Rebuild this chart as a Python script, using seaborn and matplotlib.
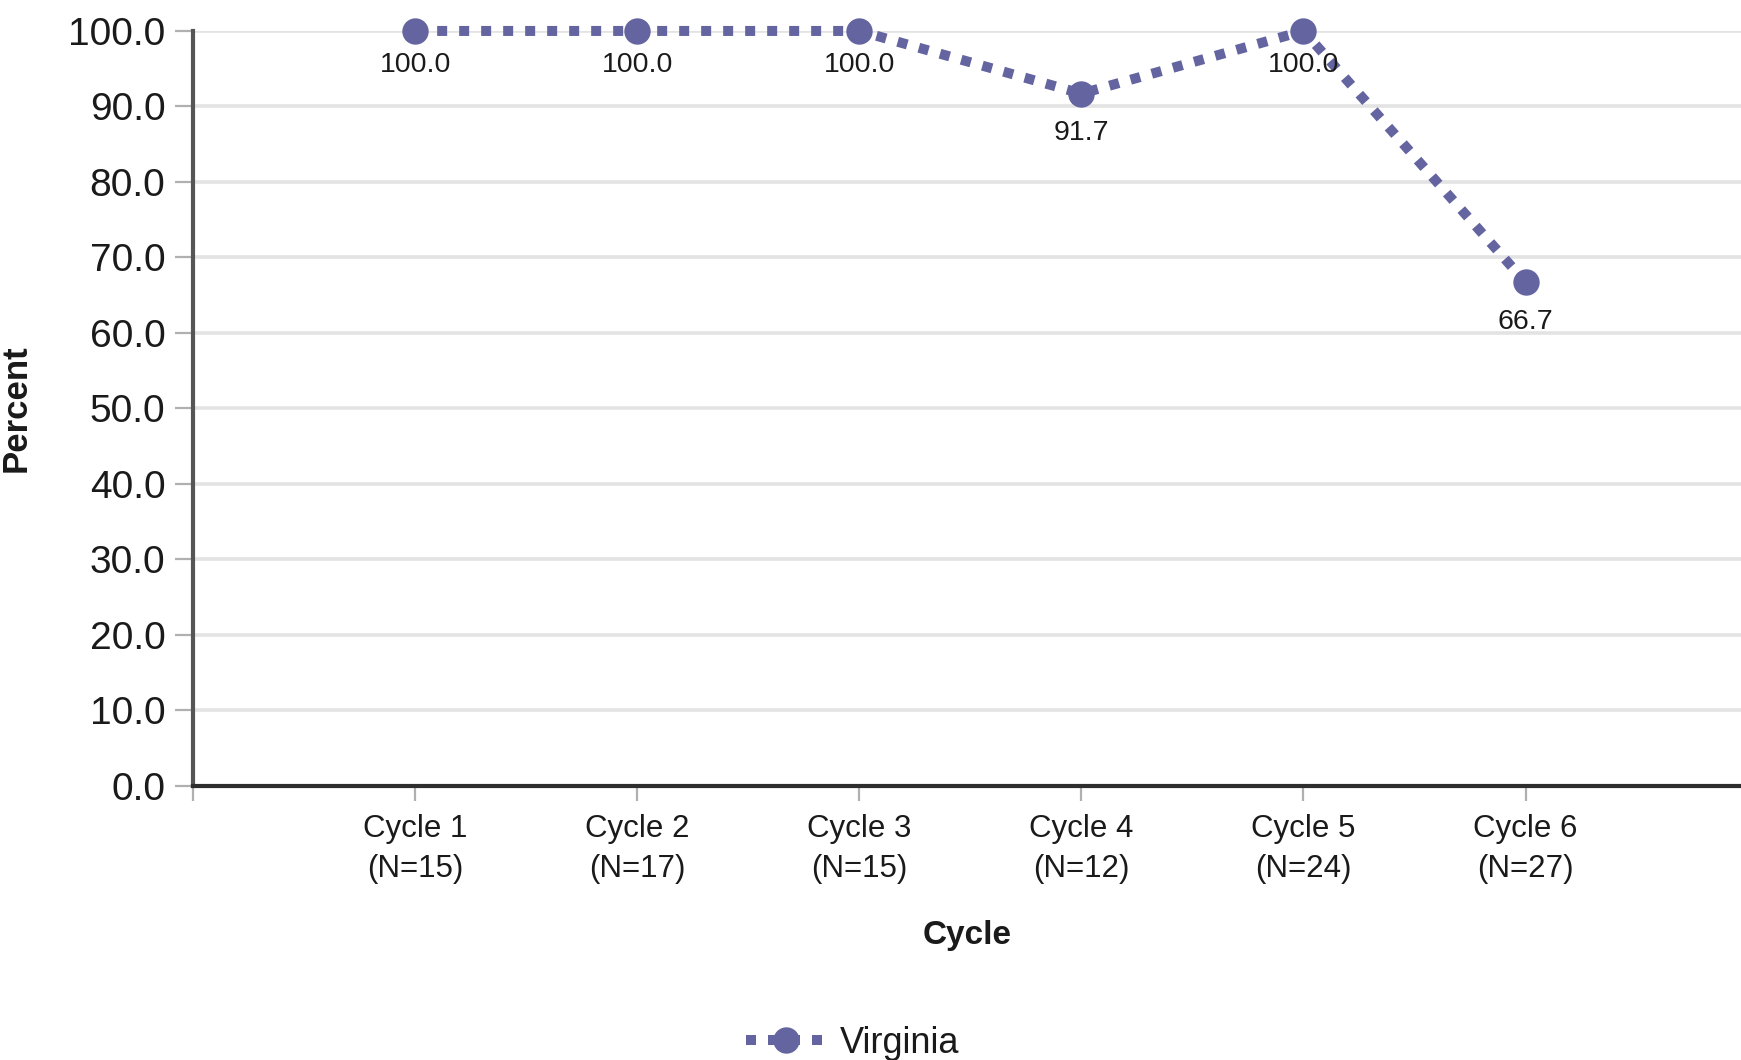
import pandas as pd
import matplotlib
matplotlib.use("Agg")
import matplotlib.pyplot as plt
import seaborn as sns
from matplotlib.ticker import FormatStrFormatter

# ====== Data ======
cycles = ["Cycle 1\n(N=15)", "Cycle 2\n(N=17)", "Cycle 3\n(N=15)",
          "Cycle 4\n(N=12)", "Cycle 5\n(N=24)", "Cycle 6\n(N=27)"]
percent = [100.0, 100.0, 100.0, 91.7, 100.0, 66.7]
series = ["Virginia"] * len(cycles)

df = pd.DataFrame({"Cycle": cycles, "Percent": percent, "State": series})

sns.set_theme(style="white")
plt.rcParams["font.family"] = ["Liberation Sans", "DejaVu Sans"]

line_color = "#6464A0"
text_color = "#1a1a1a"
dots = (0, (1, 1.2))

fig = plt.figure(figsize=(17.41, 10.60), dpi=100)
ax = fig.add_axes([0.1109, 0.2585, 0.8891, 0.7123])

sns.lineplot(data=df, x="Cycle", y="Percent", hue="State", palette=[line_color],
             ax=ax, marker="o", markersize=19, markeredgewidth=0,
             linewidth=7.2, linestyle=dots, sort=False, legend=False,
             clip_on=False, zorder=5)
for ln in ax.lines:
    ln.set_dash_capstyle("butt")

# ====== Data labels ======
for i, v in enumerate(percent):
    off = -15 if v == 100.0 else -19
    ax.annotate(f"{v:.1f}", xy=(i, v), xytext=(0, off), textcoords="offset points",
                ha="center", va="top", fontsize=20.5, color=text_color, zorder=6)

# ====== Axes styling ======
ax.set_xlim(-1, 5.97)
ax.set_ylim(0, 100)
ax.set_yticks(range(0, 101, 10))
ax.yaxis.set_major_formatter(FormatStrFormatter("%.1f"))
ax.set_xticks(list(range(-1, 6)))
ax.set_xticklabels([""] + cycles, linespacing=1.45)

ax.grid(axis="y", color="#e3e3e3", linewidth=2.6)
ax.grid(axis="x", visible=False)
ax.set_axisbelow(True)

for side in ["top", "right"]:
    ax.spines[side].set_visible(False)
ax.spines["left"].set_color("#555555")
ax.spines["left"].set_linewidth(3)
ax.spines["bottom"].set_color("#2e2e2e")
ax.spines["bottom"].set_linewidth(3)

ax.tick_params(axis="y", which="major", left=True, length=13, width=1.6,
               color="#b0b0b0", pad=7, labelsize=28, labelcolor=text_color)
ax.tick_params(axis="x", which="major", bottom=True, length=11, width=1.6,
               color="#b0b0b0", pad=9, labelsize=22.5, labelcolor=text_color)

ax.set_ylabel("Percent", fontsize=25, fontweight="bold", color=text_color)
ax.set_xlabel("Cycle", fontsize=24, fontweight="bold", color=text_color)
ax.yaxis.set_label_coords(-0.1034, 0.5)
ax.xaxis.set_label_coords(0.5, -0.178)

# ====== Legend ======
handle = plt.Line2D([], [], color=line_color, marker="o", markersize=19,
                    markeredgewidth=0, linewidth=7.2, linestyle=dots,
                    dash_capstyle="butt")
fig.legend([handle], ["Virginia"], loc="center", bbox_to_anchor=(0.49, 0.016),
           frameon=False, fontsize=26, handlelength=2.2, handletextpad=0.4,
           labelcolor=text_color)

fig.savefig("out.png", dpi=100)
